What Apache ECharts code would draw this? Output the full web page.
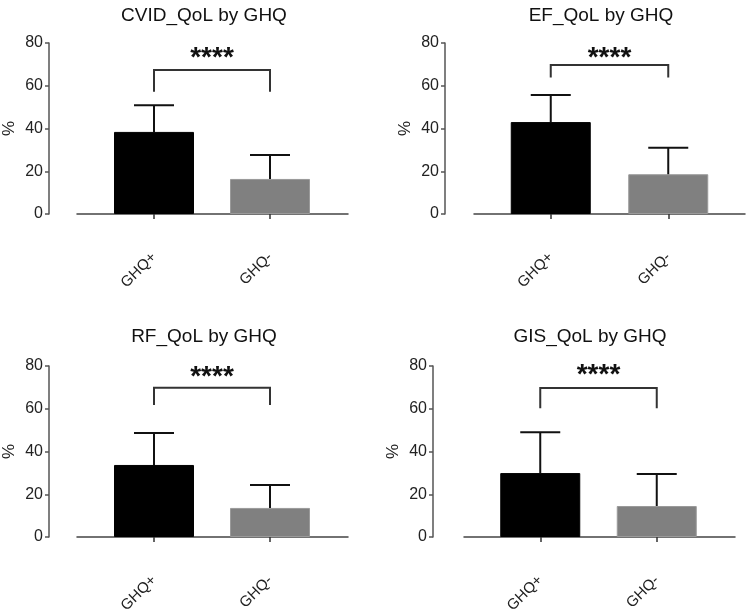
<!DOCTYPE html>
<html>
<head>
<meta charset="utf-8">
<script src="https://cdn.jsdelivr.net/npm/echarts@6/dist/echarts.min.js"></script>
<style>
  html, body { margin: 0; padding: 0; background: #fff; }
  #main { width: 747px; height: 611px; }
</style>
</head>
<body>
<div id="main"></div>
<script>
// data
const categories = ['GHQ+', 'GHQ-'];
const titles = ['CVID_QoL by GHQ', 'EF_QoL by GHQ', 'RF_QoL by GHQ', 'GIS_QoL by GHQ'];
const means = [[38.4, 16.4], [43.0, 18.6], [33.7, 13.6], [29.9, 14.5]];
const upperErr = [[50.9, 27.6], [55.7, 31.0], [48.7, 24.3], [49.0, 29.5]];
const bracketTop = [67.4, 69.7, 69.8, 69.7];
const bracketLeg = [57.2, 63.9, 61.8, 60.2];
const starLevel = [74.4, 74.4, 76.3, 76.9];
const starLabel = '****';
const yMin = 0, yMax = 80, yStep = 20;

// panel layout (pixels)
const panels = [
  { gridLeft: 96, gridWidth: 232, top: 43, axisX: 49, lineLeft: 77, titleX: 199, titleY: 1 },
  { gridLeft: 492, gridWidth: 235, top: 43, axisX: 445, lineLeft: 474, titleX: 596, titleY: 1 },
  { gridLeft: 96, gridWidth: 232, top: 366, axisX: 49, lineLeft: 77, titleX: 199, titleY: 322 },
  { gridLeft: 482, gridWidth: 233, top: 366, axisX: 433, lineLeft: 464, titleX: 585, titleY: 322 }
];
const plotH = 171;
const lineW = 271;
const barColors = ['#000000', '#808080'];
const fontFamily = 'Liberation Sans, Arial, sans-serif';

const chart = echarts.init(document.getElementById('main'), null, { renderer: 'canvas' });

const title = [], grid = [], xAxis = [], yAxis = [], series = [];

panels.forEach((p, i) => {
  title.push({
    text: titles[i],
    left: p.titleX,
    top: p.titleY,
    textAlign: 'center',
    textStyle: { fontFamily: fontFamily, fontSize: 19, fontWeight: 'normal', color: '#111' }
  });

  // bar grid
  grid.push({ left: p.gridLeft, top: p.top, width: p.gridWidth, height: plotH, outerBoundsMode: 'none' });
  // long baseline grid
  grid.push({ left: p.lineLeft, top: p.top, width: lineW, height: plotH, outerBoundsMode: 'none' });

  const g = i * 2;
  xAxis.push({
    type: 'category',
    gridIndex: g,
    data: categories,
    offset: 28,
    axisLine: { show: false },
    axisTick: { show: true, alignWithLabel: true, length: 5, lineStyle: { color: '#333', width: 1.5 } },
    axisLabel: { rotate: 45, margin: 13, fontFamily: fontFamily, fontSize: 15, color: '#222' },
    splitLine: { show: false }
  });
  xAxis.push({
    type: 'value',
    gridIndex: g + 1,
    min: 0,
    max: 1,
    offset: 28,
    axisLine: { show: true, lineStyle: { color: '#444', width: 1.5 } },
    axisTick: { show: false },
    axisLabel: { show: false },
    splitLine: { show: false }
  });

  yAxis.push({
    type: 'value',
    gridIndex: g,
    min: yMin,
    max: yMax,
    interval: yStep,
    offset: p.gridLeft - p.axisX,
    name: '%',
    nameLocation: 'middle',
    nameGap: 31,
    nameTextStyle: { fontFamily: fontFamily, fontSize: 17, color: '#222' },
    axisLine: { show: true, lineStyle: { color: '#555', width: 1.5 } },
    axisTick: { show: true, length: 4, lineStyle: { color: '#555', width: 1.5 } },
    axisLabel: { margin: 6, fontFamily: fontFamily, fontSize: 16, color: '#222' },
    splitLine: { show: false }
  });
  yAxis.push({
    type: 'value',
    gridIndex: g + 1,
    min: 0,
    max: 1,
    show: false
  });

  series.push({
    type: 'bar',
    xAxisIndex: g,
    yAxisIndex: g,
    barWidth: 80,
    data: means[i].map((v, j) => ({
      value: v,
      itemStyle: {
        color: barColors[j],
        borderColor: j === 0 ? '#000' : '#9a9a9a',
        borderWidth: 1
      }
    })),
    z: 2
  });

  // upper error whiskers
  series.push({
    type: 'custom',
    xAxisIndex: g,
    yAxisIndex: g,
    data: means[i].map((v, j) => [j, v, upperErr[i][j]]),
    encode: { x: 0, y: [1, 2] },
    z: 3,
    renderItem: function (params, api) {
      const base = api.coord([api.value(0), api.value(1)]);
      const top = api.coord([api.value(0), api.value(2)]);
      const style = { stroke: '#111', lineWidth: 2 };
      return {
        type: 'group',
        children: [
          { type: 'line', shape: { x1: base[0], y1: base[1], x2: top[0], y2: top[1] }, style: style },
          { type: 'line', shape: { x1: top[0] - 20, y1: top[1], x2: top[0] + 20, y2: top[1] }, style: style }
        ]
      };
    }
  });

  // significance bracket with stars
  series.push({
    type: 'custom',
    xAxisIndex: g,
    yAxisIndex: g,
    data: [[0, bracketTop[i], 1, bracketLeg[i], starLevel[i]]],
    encode: { x: [0, 2], y: [1, 3, 4] },
    z: 3,
    renderItem: function (params, api) {
      const a = api.coord([api.value(0), api.value(1)]);
      const b = api.coord([api.value(2), api.value(1)]);
      const legY = api.coord([api.value(0), api.value(3)])[1];
      const starY = api.coord([api.value(0), api.value(4)])[1];
      return {
        type: 'group',
        children: [
          {
            type: 'polyline',
            shape: { points: [[a[0], legY], a, b, [b[0], legY]] },
            style: { stroke: '#333', lineWidth: 2, fill: null }
          },
          {
            type: 'text',
            style: {
              text: starLabel,
              x: (a[0] + b[0]) / 2,
              y: starY + 17,
              align: 'center',
              verticalAlign: 'bottom',
              font: 'bold 28px ' + fontFamily,
              fill: '#111'
            }
          }
        ]
      };
    }
  });
});

chart.setOption({
  animation: false,
  backgroundColor: '#fff',
  title: title,
  grid: grid,
  xAxis: xAxis,
  yAxis: yAxis,
  series: series
});
</script>
</body>
</html>
